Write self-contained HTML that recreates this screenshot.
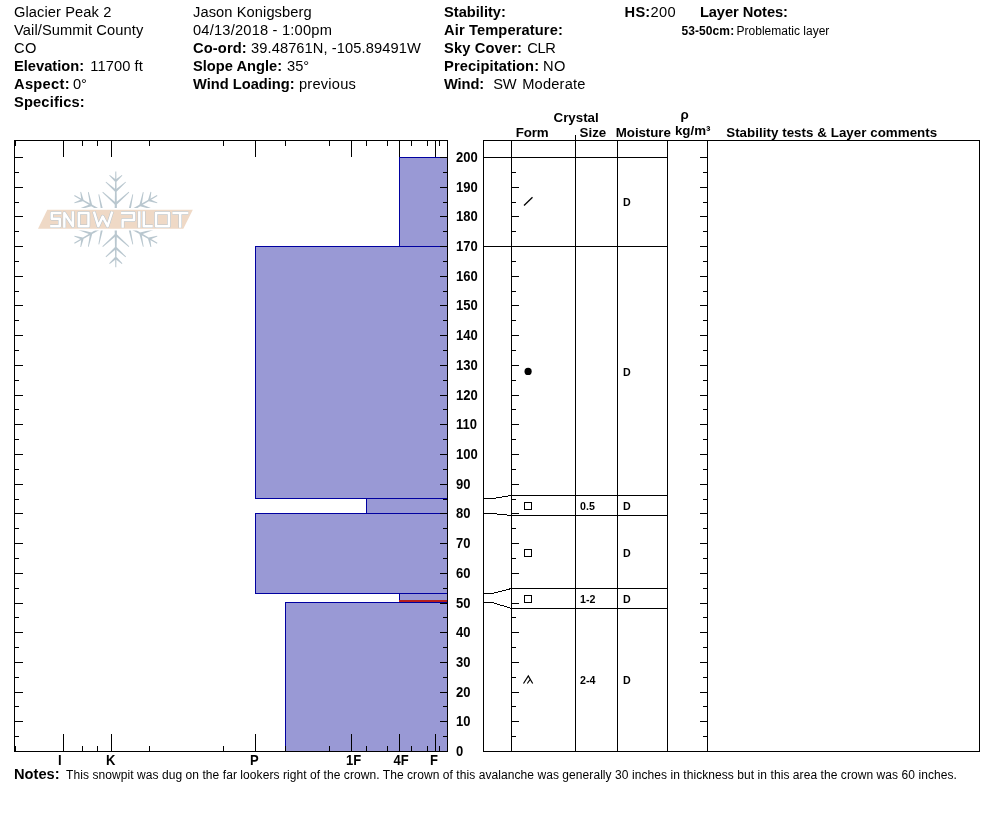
<!DOCTYPE html><html><head><meta charset="utf-8"><style>html,body{margin:0;padding:0;background:#fff;}svg{display:block;} text{font-family:"Liberation Sans",sans-serif;fill:#000;} .b{font-weight:bold;}</style></head><body><div style="will-change:transform;width:994px;height:840px">
<svg width="994" height="840" viewBox="0 0 994 840">
<rect x="0" y="0" width="994" height="840" fill="#fff"/>
<text x="14" y="17" font-size="14.67" textLength="97.32" lengthAdjust="spacing">Glacier Peak 2</text>
<text x="14" y="35" font-size="14.67" textLength="129.31" lengthAdjust="spacing">Vail/Summit County</text>
<text x="14" y="53" font-size="14.67" textLength="22.38" lengthAdjust="spacing">CO</text>
<text x="14" y="71" font-size="14.67" class="b">Elevation:</text>
<text x="90.25" y="71" font-size="14.67" textLength="52.54" lengthAdjust="spacing">11700 ft</text>
<text x="14" y="89" font-size="14.67" class="b" textLength="55.57" lengthAdjust="spacing">Aspect:</text>
<text x="72.9" y="89" font-size="14.67">0°</text>
<text x="14" y="107" font-size="14.67" class="b" textLength="70.65" lengthAdjust="spacing">Specifics:</text>
<text x="193" y="17" font-size="14.67" textLength="118.64" lengthAdjust="spacing">Jason Konigsberg</text>
<text x="193" y="35" font-size="14.67" textLength="138.87" lengthAdjust="spacing">04/13/2018 - 1:00pm</text>
<text x="193" y="53" font-size="14.67" class="b" textLength="53.72" lengthAdjust="spacing">Co-ord:</text>
<text x="251.0" y="53" font-size="14.67" textLength="169.76" lengthAdjust="spacing">39.48761N, -105.89491W</text>
<text x="193" y="71" font-size="14.67" class="b">Slope Angle:</text>
<text x="287.0" y="71" font-size="14.67">35°</text>
<text x="193" y="89" font-size="14.67" class="b">Wind Loading:</text>
<text x="298.9" y="89" font-size="14.67" textLength="57.01" lengthAdjust="spacing">previous</text>
<text x="444" y="17" font-size="14.67" class="b">Stability:</text>
<text x="444" y="35" font-size="14.67" class="b" textLength="118.82" lengthAdjust="spacing">Air Temperature:</text>
<text x="444" y="53" font-size="14.67" class="b" textLength="77.88" lengthAdjust="spacing">Sky Cover:</text>
<text x="527.2" y="53" font-size="14.67" textLength="28.53" lengthAdjust="spacing">CLR</text>
<text x="444" y="71" font-size="14.67" class="b" textLength="95.06" lengthAdjust="spacing">Precipitation:</text>
<text x="543.1" y="71" font-size="14.67" textLength="22.38" lengthAdjust="spacing">NO</text>
<text x="444" y="89" font-size="14.67" class="b" textLength="40.16" lengthAdjust="spacing">Wind:</text>
<text x="493.3" y="89" font-size="14.67" textLength="23.31" lengthAdjust="spacing">SW</text>
<text x="522.2" y="89" font-size="14.67" textLength="63.22" lengthAdjust="spacing">Moderate</text>
<text x="624.6" y="17" font-size="14.67" class="b" textLength="25.65" lengthAdjust="spacing">HS:</text>
<text x="650.4" y="17" font-size="14.67" textLength="25.17" lengthAdjust="spacing">200</text>
<text x="699.9" y="17" font-size="14.67" class="b" textLength="88.1" lengthAdjust="spacing">Layer Notes:</text>
<text x="681.4" y="35" font-size="12" class="b" textLength="52.73" lengthAdjust="spacing">53-50cm:</text>
<text x="736.6" y="35" font-size="12">Problematic layer</text>
<text x="553.5" y="122" font-size="13.33" class="b">Crystal</text>
<text x="515.8" y="137" font-size="13.33" class="b" textLength="32.73" lengthAdjust="spacing">Form</text>
<text x="579.6" y="137" font-size="13.33" class="b">Size</text>
<text x="615.8" y="137" font-size="13.33" class="b" textLength="55.05" lengthAdjust="spacing">Moisture</text>
<text x="680.4" y="118.5" font-size="13.33" class="b" textLength="8.85" lengthAdjust="spacing">ρ</text>
<text x="674.9" y="135" font-size="13.33" class="b">kg/m³</text>
<text x="726.2" y="137" font-size="13.33" class="b" textLength="211.02" lengthAdjust="spacing">Stability tests &amp; Layer comments</text>
<text x="14" y="779" font-size="14.67" class="b">Notes:</text>
<text x="66.1" y="779" font-size="12" textLength="890.73" lengthAdjust="spacing">This snowpit was dug on the far lookers right of the crown. The crown of this avalanche was generally 30 inches in thickness but in this area the crown was 60 inches.</text>
<g><polygon points="117.10,219.40 116.30,171.60 115.30,171.60 114.50,219.40" fill="#b9c7cf"/>
<polygon points="116.54,204.82 129.22,192.45 128.69,191.86 115.06,203.18" fill="#b9c7cf"/>
<polygon points="116.54,203.18 102.91,191.86 102.38,192.45 115.06,204.82" fill="#b9c7cf"/>
<polygon points="116.54,191.72 126.03,182.23 125.49,181.64 115.06,190.08" fill="#b9c7cf"/>
<polygon points="116.54,190.08 106.11,181.64 105.57,182.23 115.06,191.72" fill="#b9c7cf"/>
<polygon points="116.54,181.72 122.38,175.51 121.85,174.92 115.06,180.08" fill="#b9c7cf"/>
<polygon points="116.54,180.08 109.75,174.92 109.22,175.51 115.06,181.72" fill="#b9c7cf"/>
<polygon points="116.45,220.53 157.45,195.93 156.95,195.07 115.15,218.27" fill="#b9c7cf"/>
<polygon points="128.80,212.75 145.85,217.55 146.09,216.79 129.48,210.65" fill="#b9c7cf"/>
<polygon points="130.21,211.93 133.21,194.47 132.43,194.30 128.06,211.47" fill="#b9c7cf"/>
<polygon points="140.14,206.20 153.10,209.67 153.35,208.91 140.82,204.10" fill="#b9c7cf"/>
<polygon points="141.56,205.38 143.66,192.13 142.88,191.96 139.41,204.92" fill="#b9c7cf"/>
<polygon points="148.80,201.20 157.10,203.16 157.35,202.40 149.48,199.10" fill="#b9c7cf"/>
<polygon points="150.22,200.38 151.30,191.92 150.52,191.75 148.07,199.92" fill="#b9c7cf"/>
<polygon points="115.15,220.53 156.95,243.73 157.45,242.87 116.45,218.27" fill="#b9c7cf"/>
<polygon points="128.06,227.33 132.43,244.50 133.21,244.33 130.21,226.87" fill="#b9c7cf"/>
<polygon points="129.48,228.15 146.09,222.01 145.85,221.25 128.80,226.05" fill="#b9c7cf"/>
<polygon points="139.41,233.88 142.88,246.84 143.66,246.67 141.56,233.42" fill="#b9c7cf"/>
<polygon points="140.82,234.70 153.35,229.89 153.10,229.13 140.14,232.60" fill="#b9c7cf"/>
<polygon points="148.07,238.88 150.52,247.05 151.30,246.88 150.22,238.42" fill="#b9c7cf"/>
<polygon points="149.48,239.70 157.35,236.40 157.10,235.64 148.80,237.60" fill="#b9c7cf"/>
<polygon points="114.50,219.40 115.30,267.20 116.30,267.20 117.10,219.40" fill="#b9c7cf"/>
<polygon points="115.06,233.98 102.38,246.35 102.91,246.94 116.54,235.62" fill="#b9c7cf"/>
<polygon points="115.06,235.62 128.69,246.94 129.22,246.35 116.54,233.98" fill="#b9c7cf"/>
<polygon points="115.06,247.08 105.57,256.57 106.11,257.16 116.54,248.72" fill="#b9c7cf"/>
<polygon points="115.06,248.72 125.49,257.16 126.03,256.57 116.54,247.08" fill="#b9c7cf"/>
<polygon points="115.06,257.08 109.22,263.29 109.75,263.88 116.54,258.72" fill="#b9c7cf"/>
<polygon points="115.06,258.72 121.85,263.88 122.38,263.29 116.54,257.08" fill="#b9c7cf"/>
<polygon points="115.15,218.27 74.15,242.87 74.65,243.73 116.45,220.53" fill="#b9c7cf"/>
<polygon points="102.80,226.05 85.75,221.25 85.51,222.01 102.12,228.15" fill="#b9c7cf"/>
<polygon points="101.39,226.87 98.39,244.33 99.17,244.50 103.54,227.33" fill="#b9c7cf"/>
<polygon points="91.46,232.60 78.50,229.13 78.25,229.89 90.78,234.70" fill="#b9c7cf"/>
<polygon points="90.04,233.42 87.94,246.67 88.72,246.84 92.19,233.88" fill="#b9c7cf"/>
<polygon points="82.80,237.60 74.50,235.64 74.25,236.40 82.12,239.70" fill="#b9c7cf"/>
<polygon points="81.38,238.42 80.30,246.88 81.08,247.05 83.53,238.88" fill="#b9c7cf"/>
<polygon points="116.45,218.27 74.65,195.07 74.15,195.93 115.15,220.53" fill="#b9c7cf"/>
<polygon points="103.54,211.47 99.17,194.30 98.39,194.47 101.39,211.93" fill="#b9c7cf"/>
<polygon points="102.12,210.65 85.51,216.79 85.75,217.55 102.80,212.75" fill="#b9c7cf"/>
<polygon points="92.19,204.92 88.72,191.96 87.94,192.13 90.04,205.38" fill="#b9c7cf"/>
<polygon points="90.78,204.10 78.25,208.91 78.50,209.67 91.46,206.20" fill="#b9c7cf"/>
<polygon points="83.53,199.92 81.08,191.75 80.30,191.92 81.38,200.38" fill="#b9c7cf"/>
<polygon points="82.12,199.10 74.25,202.40 74.50,203.16 82.80,201.20" fill="#b9c7cf"/><polygon points="47.3,209.8 192.8,209.8 183.3,228.8 38,228.8" fill="#efd9c6" stroke="#fff" stroke-width="3.6" paint-order="stroke"/><path d="M61.35 212.95 H51.75 V218.75 H59.75 V226.15 H50.15 M64.35 227.75 V212.95 L72.85 226.15 V211.35 M78.85 212.95 H88.45 V226.15 H78.85 Z M93.9 211.54999999999998 L98.3 226.15 L102.7 216.6 L107.6 226.15 L112.2 211.54999999999998 M121.05000000000001 212.95 H134.05 V219.9 H122.65 V227.75 M139.3 211.35 V227.75 M143.75 211.35 V226.15 H152.75 M156.05 212.95 H168.95 V226.15 H156.05 Z M172.4 212.95 H188.3 M180.2 212.95 V227.75" fill="none" stroke="#b8c4cc" stroke-width="3.5" stroke-linejoin="round" stroke-linecap="butt"/><path d="M61.35 212.95 H51.75 V218.75 H59.75 V226.15 H50.15 M64.35 227.75 V212.95 L72.85 226.15 V211.35 M78.85 212.95 H88.45 V226.15 H78.85 Z M93.9 211.54999999999998 L98.3 226.15 L102.7 216.6 L107.6 226.15 L112.2 211.54999999999998 M121.05000000000001 212.95 H134.05 V219.9 H122.65 V227.75 M139.3 211.35 V227.75 M143.75 211.35 V226.15 H152.75 M156.05 212.95 H168.95 V226.15 H156.05 Z M172.4 212.95 H188.3 M180.2 212.95 V227.75" fill="none" stroke="#ffffff" stroke-width="2.5" stroke-linejoin="round" stroke-linecap="butt"/></g>
<rect x="399" y="157" width="48" height="89" fill="#9999d5"/>
<rect x="255" y="246" width="192" height="252" fill="#9999d5"/>
<rect x="366" y="498" width="81" height="15" fill="#9999d5"/>
<rect x="255" y="513" width="192" height="80" fill="#9999d5"/>
<rect x="399" y="593" width="48" height="9" fill="#9999d5"/>
<rect x="285" y="602" width="162" height="149" fill="#9999d5"/>
<rect x="399" y="157" width="48" height="1" fill="#0000a0"/>
<rect x="399" y="157" width="1" height="90" fill="#0000a0"/>
<rect x="399" y="246" width="48" height="1" fill="#0000a0"/>
<rect x="255" y="246" width="192" height="1" fill="#0000a0"/>
<rect x="255" y="246" width="1" height="253" fill="#0000a0"/>
<rect x="255" y="498" width="192" height="1" fill="#0000a0"/>
<rect x="366" y="498" width="81" height="1" fill="#0000a0"/>
<rect x="366" y="498" width="1" height="16" fill="#0000a0"/>
<rect x="366" y="513" width="81" height="1" fill="#0000a0"/>
<rect x="255" y="513" width="192" height="1" fill="#0000a0"/>
<rect x="255" y="513" width="1" height="81" fill="#0000a0"/>
<rect x="255" y="593" width="192" height="1" fill="#0000a0"/>
<rect x="399" y="593" width="48" height="1" fill="#0000a0"/>
<rect x="399" y="593" width="1" height="10" fill="#0000a0"/>
<rect x="399" y="602" width="48" height="1" fill="#0000a0"/>
<rect x="285" y="602" width="162" height="1" fill="#0000a0"/>
<rect x="285" y="602" width="1" height="150" fill="#0000a0"/>
<rect x="285" y="751" width="162" height="1" fill="#0000a0"/>
<rect x="399" y="600" width="48" height="2" fill="#b41e1e"/>
<rect x="14" y="140" width="434" height="1" fill="#000"/>
<rect x="14" y="751" width="434" height="1" fill="#000"/>
<rect x="14" y="140" width="1" height="612" fill="#000"/>
<rect x="447" y="140" width="1" height="612" fill="#000"/>
<rect x="63" y="141" width="1" height="16" fill="#000"/>
<rect x="63" y="734" width="1" height="17" fill="#000"/>
<rect x="111" y="141" width="1" height="16" fill="#000"/>
<rect x="111" y="734" width="1" height="17" fill="#000"/>
<rect x="255" y="141" width="1" height="16" fill="#000"/>
<rect x="255" y="734" width="1" height="17" fill="#000"/>
<rect x="351" y="141" width="1" height="16" fill="#000"/>
<rect x="351" y="734" width="1" height="17" fill="#000"/>
<rect x="399" y="141" width="1" height="16" fill="#000"/>
<rect x="399" y="734" width="1" height="17" fill="#000"/>
<rect x="435" y="141" width="1" height="16" fill="#000"/>
<rect x="435" y="734" width="1" height="17" fill="#000"/>
<rect x="15" y="141" width="1" height="5" fill="#000"/>
<rect x="15" y="746" width="1" height="5" fill="#000"/>
<rect x="82" y="141" width="1" height="5" fill="#000"/>
<rect x="82" y="746" width="1" height="5" fill="#000"/>
<rect x="97" y="141" width="1" height="5" fill="#000"/>
<rect x="97" y="746" width="1" height="5" fill="#000"/>
<rect x="149" y="141" width="1" height="5" fill="#000"/>
<rect x="149" y="746" width="1" height="5" fill="#000"/>
<rect x="223" y="141" width="1" height="5" fill="#000"/>
<rect x="223" y="746" width="1" height="5" fill="#000"/>
<rect x="285" y="141" width="1" height="5" fill="#000"/>
<rect x="285" y="746" width="1" height="5" fill="#000"/>
<rect x="329" y="141" width="1" height="5" fill="#000"/>
<rect x="329" y="746" width="1" height="5" fill="#000"/>
<rect x="366" y="141" width="1" height="5" fill="#000"/>
<rect x="366" y="746" width="1" height="5" fill="#000"/>
<rect x="387" y="141" width="1" height="5" fill="#000"/>
<rect x="387" y="746" width="1" height="5" fill="#000"/>
<rect x="411" y="141" width="1" height="5" fill="#000"/>
<rect x="411" y="746" width="1" height="5" fill="#000"/>
<rect x="427" y="141" width="1" height="5" fill="#000"/>
<rect x="427" y="746" width="1" height="5" fill="#000"/>
<rect x="439" y="141" width="1" height="5" fill="#000"/>
<rect x="439" y="746" width="1" height="5" fill="#000"/>
<rect x="15" y="751" width="8" height="1" fill="#000"/>
<rect x="440" y="751" width="7" height="1" fill="#000"/>
<rect x="15" y="736" width="4" height="1" fill="#000"/>
<rect x="443" y="736" width="4" height="1" fill="#000"/>
<rect x="15" y="721" width="8" height="1" fill="#000"/>
<rect x="440" y="721" width="7" height="1" fill="#000"/>
<rect x="15" y="706" width="4" height="1" fill="#000"/>
<rect x="443" y="706" width="4" height="1" fill="#000"/>
<rect x="15" y="692" width="8" height="1" fill="#000"/>
<rect x="440" y="692" width="7" height="1" fill="#000"/>
<rect x="15" y="677" width="4" height="1" fill="#000"/>
<rect x="443" y="677" width="4" height="1" fill="#000"/>
<rect x="15" y="662" width="8" height="1" fill="#000"/>
<rect x="440" y="662" width="7" height="1" fill="#000"/>
<rect x="15" y="647" width="4" height="1" fill="#000"/>
<rect x="443" y="647" width="4" height="1" fill="#000"/>
<rect x="15" y="632" width="8" height="1" fill="#000"/>
<rect x="440" y="632" width="7" height="1" fill="#000"/>
<rect x="15" y="617" width="4" height="1" fill="#000"/>
<rect x="443" y="617" width="4" height="1" fill="#000"/>
<rect x="15" y="603" width="8" height="1" fill="#000"/>
<rect x="440" y="603" width="7" height="1" fill="#000"/>
<rect x="15" y="588" width="4" height="1" fill="#000"/>
<rect x="443" y="588" width="4" height="1" fill="#000"/>
<rect x="15" y="573" width="8" height="1" fill="#000"/>
<rect x="440" y="573" width="7" height="1" fill="#000"/>
<rect x="15" y="558" width="4" height="1" fill="#000"/>
<rect x="443" y="558" width="4" height="1" fill="#000"/>
<rect x="15" y="543" width="8" height="1" fill="#000"/>
<rect x="440" y="543" width="7" height="1" fill="#000"/>
<rect x="15" y="528" width="4" height="1" fill="#000"/>
<rect x="443" y="528" width="4" height="1" fill="#000"/>
<rect x="15" y="513" width="8" height="1" fill="#000"/>
<rect x="440" y="513" width="7" height="1" fill="#000"/>
<rect x="15" y="499" width="4" height="1" fill="#000"/>
<rect x="443" y="499" width="4" height="1" fill="#000"/>
<rect x="15" y="484" width="8" height="1" fill="#000"/>
<rect x="440" y="484" width="7" height="1" fill="#000"/>
<rect x="15" y="469" width="4" height="1" fill="#000"/>
<rect x="443" y="469" width="4" height="1" fill="#000"/>
<rect x="15" y="454" width="8" height="1" fill="#000"/>
<rect x="440" y="454" width="7" height="1" fill="#000"/>
<rect x="15" y="439" width="4" height="1" fill="#000"/>
<rect x="443" y="439" width="4" height="1" fill="#000"/>
<rect x="15" y="424" width="8" height="1" fill="#000"/>
<rect x="440" y="424" width="7" height="1" fill="#000"/>
<rect x="15" y="409" width="4" height="1" fill="#000"/>
<rect x="443" y="409" width="4" height="1" fill="#000"/>
<rect x="15" y="395" width="8" height="1" fill="#000"/>
<rect x="440" y="395" width="7" height="1" fill="#000"/>
<rect x="15" y="380" width="4" height="1" fill="#000"/>
<rect x="443" y="380" width="4" height="1" fill="#000"/>
<rect x="15" y="365" width="8" height="1" fill="#000"/>
<rect x="440" y="365" width="7" height="1" fill="#000"/>
<rect x="15" y="350" width="4" height="1" fill="#000"/>
<rect x="443" y="350" width="4" height="1" fill="#000"/>
<rect x="15" y="335" width="8" height="1" fill="#000"/>
<rect x="440" y="335" width="7" height="1" fill="#000"/>
<rect x="15" y="320" width="4" height="1" fill="#000"/>
<rect x="443" y="320" width="4" height="1" fill="#000"/>
<rect x="15" y="305" width="8" height="1" fill="#000"/>
<rect x="440" y="305" width="7" height="1" fill="#000"/>
<rect x="15" y="291" width="4" height="1" fill="#000"/>
<rect x="443" y="291" width="4" height="1" fill="#000"/>
<rect x="15" y="276" width="8" height="1" fill="#000"/>
<rect x="440" y="276" width="7" height="1" fill="#000"/>
<rect x="15" y="261" width="4" height="1" fill="#000"/>
<rect x="443" y="261" width="4" height="1" fill="#000"/>
<rect x="15" y="246" width="8" height="1" fill="#000"/>
<rect x="440" y="246" width="7" height="1" fill="#000"/>
<rect x="15" y="231" width="4" height="1" fill="#000"/>
<rect x="443" y="231" width="4" height="1" fill="#000"/>
<rect x="15" y="216" width="8" height="1" fill="#000"/>
<rect x="440" y="216" width="7" height="1" fill="#000"/>
<rect x="15" y="202" width="4" height="1" fill="#000"/>
<rect x="443" y="202" width="4" height="1" fill="#000"/>
<rect x="15" y="187" width="8" height="1" fill="#000"/>
<rect x="440" y="187" width="7" height="1" fill="#000"/>
<rect x="15" y="172" width="4" height="1" fill="#000"/>
<rect x="443" y="172" width="4" height="1" fill="#000"/>
<rect x="15" y="157" width="8" height="1" fill="#000"/>
<rect x="440" y="157" width="7" height="1" fill="#000"/>
<text transform="translate(456,756) scale(0.93,1)" font-size="14" class="b">0</text>
<text transform="translate(456,726) scale(0.93,1)" font-size="14" class="b">10</text>
<text transform="translate(456,697) scale(0.93,1)" font-size="14" class="b">20</text>
<text transform="translate(456,667) scale(0.93,1)" font-size="14" class="b">30</text>
<text transform="translate(456,637) scale(0.93,1)" font-size="14" class="b">40</text>
<text transform="translate(456,608) scale(0.93,1)" font-size="14" class="b">50</text>
<text transform="translate(456,578) scale(0.93,1)" font-size="14" class="b">60</text>
<text transform="translate(456,548) scale(0.93,1)" font-size="14" class="b">70</text>
<text transform="translate(456,518) scale(0.93,1)" font-size="14" class="b">80</text>
<text transform="translate(456,489) scale(0.93,1)" font-size="14" class="b">90</text>
<text transform="translate(456,459) scale(0.93,1)" font-size="14" class="b">100</text>
<text transform="translate(456,429) scale(0.93,1)" font-size="14" class="b">110</text>
<text transform="translate(456,400) scale(0.93,1)" font-size="14" class="b">120</text>
<text transform="translate(456,370) scale(0.93,1)" font-size="14" class="b">130</text>
<text transform="translate(456,340) scale(0.93,1)" font-size="14" class="b">140</text>
<text transform="translate(456,310) scale(0.93,1)" font-size="14" class="b">150</text>
<text transform="translate(456,281) scale(0.93,1)" font-size="14" class="b">160</text>
<text transform="translate(456,251) scale(0.93,1)" font-size="14" class="b">170</text>
<text transform="translate(456,221) scale(0.93,1)" font-size="14" class="b">180</text>
<text transform="translate(456,192) scale(0.93,1)" font-size="14" class="b">190</text>
<text transform="translate(456,162) scale(0.93,1)" font-size="14" class="b">200</text>
<text transform="translate(58.1,765) scale(0.93,1)" font-size="14" class="b">I</text>
<text transform="translate(106.1,765) scale(0.93,1)" font-size="14" class="b">K</text>
<text transform="translate(250.1,765) scale(0.93,1)" font-size="14" class="b">P</text>
<text transform="translate(346.1,765) scale(0.93,1)" font-size="14" class="b">1F</text>
<text transform="translate(393.6,765) scale(0.93,1)" font-size="14" class="b">4F</text>
<text transform="translate(430.1,765) scale(0.93,1)" font-size="14" class="b">F</text>
<rect x="483" y="140" width="497" height="1" fill="#000"/>
<rect x="483" y="751" width="497" height="1" fill="#000"/>
<rect x="483" y="140" width="1" height="612" fill="#000"/>
<rect x="511" y="140" width="1" height="612" fill="#000"/>
<rect x="617" y="140" width="1" height="612" fill="#000"/>
<rect x="667" y="140" width="1" height="612" fill="#000"/>
<rect x="707" y="140" width="1" height="612" fill="#000"/>
<rect x="979" y="140" width="1" height="612" fill="#000"/>
<rect x="575" y="135" width="1" height="617" fill="#000"/>
<rect x="512" y="751" width="7" height="1" fill="#000"/>
<rect x="700" y="751" width="7" height="1" fill="#000"/>
<rect x="512" y="736" width="4" height="1" fill="#000"/>
<rect x="703" y="736" width="4" height="1" fill="#000"/>
<rect x="512" y="721" width="7" height="1" fill="#000"/>
<rect x="700" y="721" width="7" height="1" fill="#000"/>
<rect x="512" y="706" width="4" height="1" fill="#000"/>
<rect x="703" y="706" width="4" height="1" fill="#000"/>
<rect x="512" y="692" width="7" height="1" fill="#000"/>
<rect x="700" y="692" width="7" height="1" fill="#000"/>
<rect x="512" y="677" width="4" height="1" fill="#000"/>
<rect x="703" y="677" width="4" height="1" fill="#000"/>
<rect x="512" y="662" width="7" height="1" fill="#000"/>
<rect x="700" y="662" width="7" height="1" fill="#000"/>
<rect x="512" y="647" width="4" height="1" fill="#000"/>
<rect x="703" y="647" width="4" height="1" fill="#000"/>
<rect x="512" y="632" width="7" height="1" fill="#000"/>
<rect x="700" y="632" width="7" height="1" fill="#000"/>
<rect x="512" y="617" width="4" height="1" fill="#000"/>
<rect x="703" y="617" width="4" height="1" fill="#000"/>
<rect x="512" y="603" width="7" height="1" fill="#000"/>
<rect x="700" y="603" width="7" height="1" fill="#000"/>
<rect x="512" y="588" width="4" height="1" fill="#000"/>
<rect x="703" y="588" width="4" height="1" fill="#000"/>
<rect x="512" y="573" width="7" height="1" fill="#000"/>
<rect x="700" y="573" width="7" height="1" fill="#000"/>
<rect x="512" y="558" width="4" height="1" fill="#000"/>
<rect x="703" y="558" width="4" height="1" fill="#000"/>
<rect x="512" y="543" width="7" height="1" fill="#000"/>
<rect x="700" y="543" width="7" height="1" fill="#000"/>
<rect x="512" y="528" width="4" height="1" fill="#000"/>
<rect x="703" y="528" width="4" height="1" fill="#000"/>
<rect x="512" y="513" width="7" height="1" fill="#000"/>
<rect x="700" y="513" width="7" height="1" fill="#000"/>
<rect x="512" y="499" width="4" height="1" fill="#000"/>
<rect x="703" y="499" width="4" height="1" fill="#000"/>
<rect x="512" y="484" width="7" height="1" fill="#000"/>
<rect x="700" y="484" width="7" height="1" fill="#000"/>
<rect x="512" y="469" width="4" height="1" fill="#000"/>
<rect x="703" y="469" width="4" height="1" fill="#000"/>
<rect x="512" y="454" width="7" height="1" fill="#000"/>
<rect x="700" y="454" width="7" height="1" fill="#000"/>
<rect x="512" y="439" width="4" height="1" fill="#000"/>
<rect x="703" y="439" width="4" height="1" fill="#000"/>
<rect x="512" y="424" width="7" height="1" fill="#000"/>
<rect x="700" y="424" width="7" height="1" fill="#000"/>
<rect x="512" y="409" width="4" height="1" fill="#000"/>
<rect x="703" y="409" width="4" height="1" fill="#000"/>
<rect x="512" y="395" width="7" height="1" fill="#000"/>
<rect x="700" y="395" width="7" height="1" fill="#000"/>
<rect x="512" y="380" width="4" height="1" fill="#000"/>
<rect x="703" y="380" width="4" height="1" fill="#000"/>
<rect x="512" y="365" width="7" height="1" fill="#000"/>
<rect x="700" y="365" width="7" height="1" fill="#000"/>
<rect x="512" y="350" width="4" height="1" fill="#000"/>
<rect x="703" y="350" width="4" height="1" fill="#000"/>
<rect x="512" y="335" width="7" height="1" fill="#000"/>
<rect x="700" y="335" width="7" height="1" fill="#000"/>
<rect x="512" y="320" width="4" height="1" fill="#000"/>
<rect x="703" y="320" width="4" height="1" fill="#000"/>
<rect x="512" y="305" width="7" height="1" fill="#000"/>
<rect x="700" y="305" width="7" height="1" fill="#000"/>
<rect x="512" y="291" width="4" height="1" fill="#000"/>
<rect x="703" y="291" width="4" height="1" fill="#000"/>
<rect x="512" y="276" width="7" height="1" fill="#000"/>
<rect x="700" y="276" width="7" height="1" fill="#000"/>
<rect x="512" y="261" width="4" height="1" fill="#000"/>
<rect x="703" y="261" width="4" height="1" fill="#000"/>
<rect x="512" y="246" width="7" height="1" fill="#000"/>
<rect x="700" y="246" width="7" height="1" fill="#000"/>
<rect x="512" y="231" width="4" height="1" fill="#000"/>
<rect x="703" y="231" width="4" height="1" fill="#000"/>
<rect x="512" y="216" width="7" height="1" fill="#000"/>
<rect x="700" y="216" width="7" height="1" fill="#000"/>
<rect x="512" y="202" width="4" height="1" fill="#000"/>
<rect x="703" y="202" width="4" height="1" fill="#000"/>
<rect x="512" y="187" width="7" height="1" fill="#000"/>
<rect x="700" y="187" width="7" height="1" fill="#000"/>
<rect x="512" y="172" width="4" height="1" fill="#000"/>
<rect x="703" y="172" width="4" height="1" fill="#000"/>
<rect x="512" y="157" width="7" height="1" fill="#000"/>
<rect x="700" y="157" width="7" height="1" fill="#000"/>
<rect x="483" y="157" width="185" height="1" fill="#000"/>
<rect x="483" y="246" width="185" height="1" fill="#000"/>
<polyline points="483.5,498.5 492.5,498.5 511.5,495.5" fill="none" stroke="#000" stroke-width="1" shape-rendering="crispEdges"/>
<rect x="511" y="495" width="157" height="1" fill="#000"/>
<polyline points="483.5,513.5 492.5,513.5 511.5,515.5" fill="none" stroke="#000" stroke-width="1" shape-rendering="crispEdges"/>
<rect x="511" y="515" width="157" height="1" fill="#000"/>
<polyline points="483.5,593.5 492.5,593.5 511.5,588.5" fill="none" stroke="#000" stroke-width="1" shape-rendering="crispEdges"/>
<rect x="511" y="588" width="157" height="1" fill="#000"/>
<polyline points="483.5,602.5 492.5,602.5 511.5,608.5" fill="none" stroke="#000" stroke-width="1" shape-rendering="crispEdges"/>
<rect x="511" y="608" width="157" height="1" fill="#000"/>
<line x1="524" y1="205.5" x2="532.5" y2="197.3" stroke="#000" stroke-width="1.3"/>
<circle cx="528.1" cy="371.4" r="3.6" fill="#000"/>
<rect x="524" y="502" width="8" height="1" fill="#000"/>
<rect x="524" y="509" width="8" height="1" fill="#000"/>
<rect x="524" y="502" width="1" height="8" fill="#000"/>
<rect x="531" y="502" width="1" height="8" fill="#000"/>
<rect x="524" y="549" width="8" height="1" fill="#000"/>
<rect x="524" y="556" width="8" height="1" fill="#000"/>
<rect x="524" y="549" width="1" height="8" fill="#000"/>
<rect x="531" y="549" width="1" height="8" fill="#000"/>
<rect x="524" y="595" width="8" height="1" fill="#000"/>
<rect x="524" y="602" width="8" height="1" fill="#000"/>
<rect x="524" y="595" width="1" height="8" fill="#000"/>
<rect x="531" y="595" width="1" height="8" fill="#000"/>
<polyline points="523.5,683.5 528.3,676 532.7,683.5" fill="none" stroke="#000" stroke-width="1.2"/>
<line x1="527.3" y1="683.5" x2="530.1" y2="679.5" stroke="#000" stroke-width="1.2"/>
<text x="580" y="510" font-size="10.67" class="b" >0.5</text>
<text x="580" y="603" font-size="10.67" class="b" >1-2</text>
<text x="580" y="684" font-size="10.67" class="b" >2-4</text>
<text x="623" y="205.5" font-size="10.67" class="b" >D</text>
<text x="623" y="375.5" font-size="10.67" class="b" >D</text>
<text x="623" y="510" font-size="10.67" class="b" >D</text>
<text x="623" y="556.5" font-size="10.67" class="b" >D</text>
<text x="623" y="603" font-size="10.67" class="b" >D</text>
<text x="623" y="684" font-size="10.67" class="b" >D</text>
</svg></div></body></html>
